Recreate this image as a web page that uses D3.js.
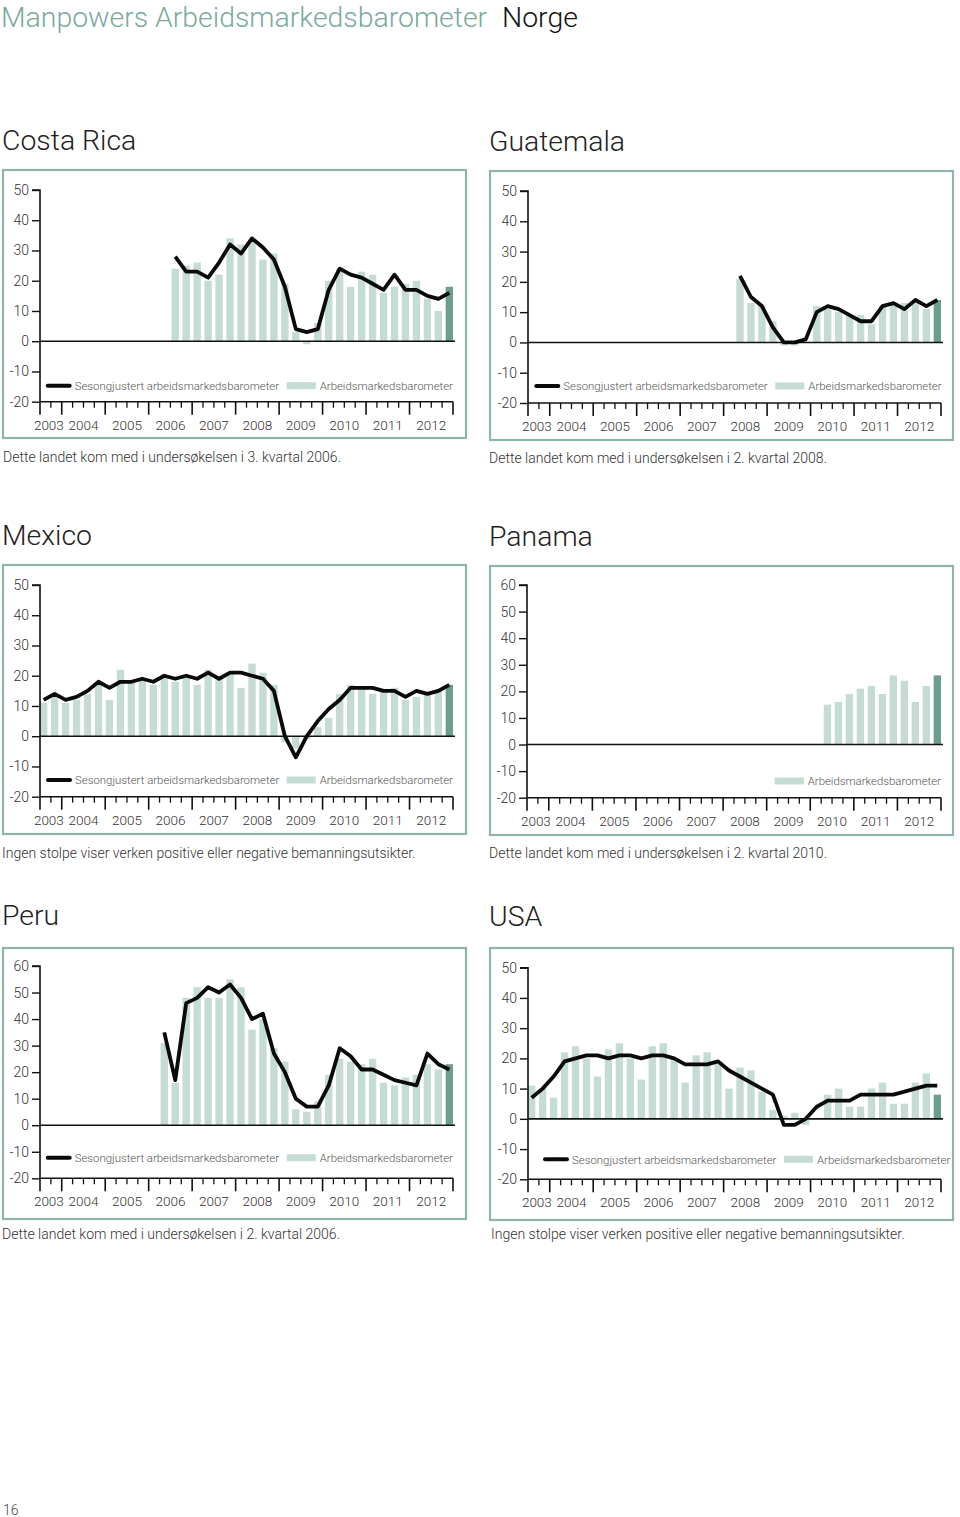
<!DOCTYPE html>
<html><head><meta charset="utf-8">
<script src="https://cdn.jsdelivr.net/npm/d3@7"></script>
<style>
body{margin:0;background:#fff;}
text{font-family:Roboto,"Liberation Sans",Arial,sans-serif;font-weight:300;}
</style></head>
<body>
<svg id="c" width="960" height="1517"></svg>
<script>
// ---------- DATA ----------
const quarters = ["2003Q3","2003Q4",
 "2004Q1","2004Q2","2004Q3","2004Q4","2005Q1","2005Q2","2005Q3","2005Q4",
 "2006Q1","2006Q2","2006Q3","2006Q4","2007Q1","2007Q2","2007Q3","2007Q4",
 "2008Q1","2008Q2","2008Q3","2008Q4","2009Q1","2009Q2","2009Q3","2009Q4",
 "2010Q1","2010Q2","2010Q3","2010Q4","2011Q1","2011Q2","2011Q3","2011Q4",
 "2012Q1","2012Q2","2012Q3","2012Q4"];
const yearLabels = ["2003","2004","2005","2006","2007","2008","2009","2010","2011","2012"];
const yearStartIndex = [0,2,6,10,14,18,22,26,30,34,38];
const n = null;

const costaRicaBars = [n,n,n,n,n,n,n,n,n,n,n,n,24,25,26,20,22,34,32,33,27,29,19,3,-1,6,20,24,18,23,22,16,18,19,20,14,10,18];
const costaRicaLine = [n,n,n,n,n,n,n,n,n,n,n,n,28,23,23,21,26,32,29,34,31,27,18,4,3,4,17,24,22,21,19,17,22,17,17,15,14,16];

const guatemalaBars = [n,n,n,n,n,n,n,n,n,n,n,n,n,n,n,n,n,n,n,21,13,12,7,-1,-1,0,12,11,10,9,9,6,12,13,13,13,11,14];
const guatemalaLine = [n,n,n,n,n,n,n,n,n,n,n,n,n,n,n,n,n,n,n,22,15,12,5,0,0,1,10,12,11,9,7,7,12,13,11,14,12,14];

const mexicoBars = [11,13,11,12,14,17,12,22,18,19,17,20,18,20,17,22,19,21,16,24,21,17,-2,-4,-1,3,6,14,17,16,14,15,16,12,13,14,15,17];
const mexicoLine = [12,14,12,13,15,18,16,18,18,19,18,20,19,20,19,21,19,21,21,20,19,15,0,-7,0,5,9,12,16,16,16,15,15,13,15,14,15,17];

const panamaBars = [n,n,n,n,n,n,n,n,n,n,n,n,n,n,n,n,n,n,n,n,n,n,n,n,n,n,n,15,16,19,21,22,19,26,24,16,22,26];

const peruBars = [n,n,n,n,n,n,n,n,n,n,n,31,16,48,52,48,48,55,52,36,40,29,24,6,5,9,19,25,24,23,25,16,15,18,19,23,21,23];
const peruLine = [n,n,n,n,n,n,n,n,n,n,n,35,17,46,48,52,50,53,48,40,42,27,20,10,7,7,15,29,26,21,21,19,17,16,15,27,23,21];

const usaBars = [11,10,7,22,24,20,14,23,25,20,13,24,25,20,12,21,22,19,10,17,16,9,3,1,2,-2,0,8,10,4,4,10,12,5,5,12,15,8];
const usaLine = [7,10,14,19,20,21,21,20,21,21,20,21,21,20,18,18,18,19,16,14,12,10,8,-2,-2,0,4,6,6,6,8,8,8,8,9,10,11,11];

const legendLineLabel = "Sesongjustert arbeidsmarkedsbarometer";
const legendBarLabel = "Arbeidsmarkedsbarometer";

// ---------- LAYOUT ----------
const panels = [
 {title:"Costa Rica", tx:2, ty:150, frame:[3,170,463,268], x0:40, x1:453, yTop:190, yBot:401.7, yMax:50,
  bars:costaRicaBars, line:costaRicaLine, lgLine:7.7, lgSw:246.7, lgDy:16, note:"Dette landet kom med i undersøkelsen i 3. kvartal 2006.", nx:3, ny:462},
 {title:"Guatemala", tx:489, ty:151, frame:[490,171,463,269], x0:528, x1:941, yTop:191, yBot:403, yMax:50,
  bars:guatemalaBars, line:guatemalaLine, lgLine:8.3, lgSw:247.3, lgDy:17, note:"Dette landet kom med i undersøkelsen i 2. kvartal 2008.", nx:489, ny:463},
 {title:"Mexico", tx:2, ty:545, frame:[3,565,463,269], x0:40, x1:453, yTop:585, yBot:796.7, yMax:50,
  bars:mexicoBars, line:mexicoLine, lgLine:8, lgSw:246.7, lgDy:16.7, note:"Ingen stolpe viser verken positive eller negative bemanningsutsikter.", nx:2, ny:858},
 {title:"Panama", tx:489, ty:546, frame:[490,566,463,269], x0:527, x1:941, yTop:585, yBot:797.7, yMax:60,
  bars:panamaBars, line:null, lgLine:8, lgSw:247.7, lgDy:16.7, note:"Dette landet kom med i undersøkelsen i 2. kvartal 2010.", nx:489, ny:858},
 {title:"Peru", tx:2, ty:925, frame:[3,948,463,271], x0:40, x1:453, yTop:966, yBot:1178.3, yMax:60,
  bars:peruBars, line:peruLine, lgLine:7.7, lgSw:246.7, lgDy:20.6, note:"Dette landet kom med i undersøkelsen i 2. kvartal 2006.", nx:2, ny:1239},
 {title:"USA", tx:489, ty:926, frame:[490,948,463,272], x0:528, x1:941, yTop:967.7, yBot:1179.3, yMax:50,
  bars:usaBars, line:usaLine, lgLine:17, lgSw:256, lgDy:20, note:"Ingen stolpe viser verken positive eller negative bemanningsutsikter.", nx:491, ny:1239}
];

const C = {light:"#c4dcd2", dark:"#6c9f8b", frame:"#8fb5a8", title:"#7aaa9a", text:"#333", legend:"#555"};

const svg = d3.select("#c");
svg.append("rect").attr("width",960).attr("height",1517).attr("fill","#fff");

svg.append("text").attr("x",1).attr("y",26.5).attr("font-size",28.4).attr("fill",C.title)
  .text("Manpowers Arbeidsmarkedsbarometer");
svg.append("text").attr("x",502).attr("y",26.5).attr("font-size",28.4).attr("fill","#111").text("Norge");
svg.append("text").attr("x",3).attr("y",1515).attr("font-size",14).attr("fill","#444").text("16");

panels.forEach(p => {
  const g = svg.append("g");
  g.append("text").attr("x",p.tx).attr("y",p.ty).attr("font-size",28.4).attr("fill","#222").text(p.title);
  g.append("rect").attr("x",p.frame[0]).attr("y",p.frame[1]).attr("width",p.frame[2]).attr("height",p.frame[3])
    .attr("fill","none").attr("stroke",C.frame).attr("stroke-width",2.2);
  g.append("text").attr("x",p.nx).attr("y",p.ny).attr("font-size",14).attr("fill",C.text).text(p.note);

  const x = d3.scaleBand().domain(quarters).range([p.x0,p.x1]).paddingInner(0.33).paddingOuter(0);
  const y = d3.scaleLinear().domain([-20,p.yMax]).range([p.yBot,p.yTop]);
  const tx = d3.scaleLinear().domain([0,quarters.length]).range([p.x0,p.x1]);

  // bars
  const bd = quarters.map((q,i)=>({q, v:p.bars[i], i})).filter(d=>d.v!==null);
  g.selectAll("rect.bar").data(bd).enter().append("rect").attr("class","bar")
    .attr("x",d=>x(d.q)).attr("width",x.bandwidth())
    .attr("y",d=>y(Math.max(0,d.v))).attr("height",d=>Math.abs(y(d.v)-y(0)))
    .attr("fill",d=>d.i===quarters.length-1?C.dark:C.light);

  // zero line
  g.append("line").attr("x1",p.x0).attr("x2",p.x1+2).attr("y1",y(0)).attr("y2",y(0))
    .attr("stroke","#111").attr("stroke-width",1.6);

  // y axis
  const ticksY = d3.range(-20,p.yMax+1,10);
  const ya = d3.axisLeft(y).tickValues(ticksY).tickSize(8).tickPadding(3).tickFormat(d=>String(d));
  const yg = g.append("g").attr("transform",`translate(${p.x0},0)`).call(ya);
  yg.attr("font-family",null);
  yg.select(".domain").attr("stroke","#111").attr("stroke-width",1.6).attr("d",`M-8,${p.yTop}H0V${p.yBot}`);
  yg.selectAll(".tick line").attr("stroke","#111").attr("stroke-width",1.4);
  yg.selectAll(".tick text").attr("font-size",14).attr("fill",C.text);

  // x axis
  g.append("line").attr("x1",p.x0).attr("x2",p.x1).attr("y1",p.yBot).attr("y2",p.yBot)
    .attr("stroke","#111").attr("stroke-width",1.6);
  d3.range(0,quarters.length+1).forEach(i=>{
    const major = yearStartIndex.includes(i);
    g.append("line").attr("x1",tx(i)).attr("x2",tx(i)).attr("y1",p.yBot).attr("y2",p.yBot+(major?13:6))
      .attr("stroke","#111").attr("stroke-width",major?1.6:1.3);
  });
  yearLabels.forEach((lab,k)=>{
    let cx = (tx(yearStartIndex[k])+tx(yearStartIndex[k+1]))/2;
    if(k===0) cx -= 2;
    g.append("text").attr("x",cx).attr("y",p.yBot+28).attr("text-anchor","middle")
      .attr("font-size",13.5).attr("fill",C.text).text(lab);
  });

  // line
  if(p.line){
    const ld = quarters.map((q,i)=>({q, v:p.line[i]})).filter(d=>d.v!==null);
    g.append("path").datum(ld)
      .attr("d",d3.line().x(d=>x(d.q)+x.bandwidth()/2).y(d=>y(d.v)))
      .attr("fill","none").attr("stroke","#0a0a0a").attr("stroke-width",3.8).attr("stroke-linejoin","round");
  }

  // legend
  const ly = p.yBot - p.lgDy;
  if(p.line){
    const lx = p.x0 + p.lgLine;
    g.append("line").attr("x1",lx).attr("x2",lx+22).attr("y1",ly).attr("y2",ly)
      .attr("stroke","#0a0a0a").attr("stroke-width",4).attr("stroke-linecap","round");
    g.append("text").attr("x",lx+27).attr("y",ly+4.2).attr("font-size",11.4).attr("fill",C.legend).text(legendLineLabel);
  }
  const sx = p.x0 + p.lgSw;
  g.append("rect").attr("x",sx).attr("y",ly-3.5).attr("width",29).attr("height",7).attr("fill",C.light);
  g.append("text").attr("x",sx+33).attr("y",ly+4.2).attr("font-size",11.4).attr("fill",C.legend).text(legendBarLabel);
});
</script>
</body></html>
